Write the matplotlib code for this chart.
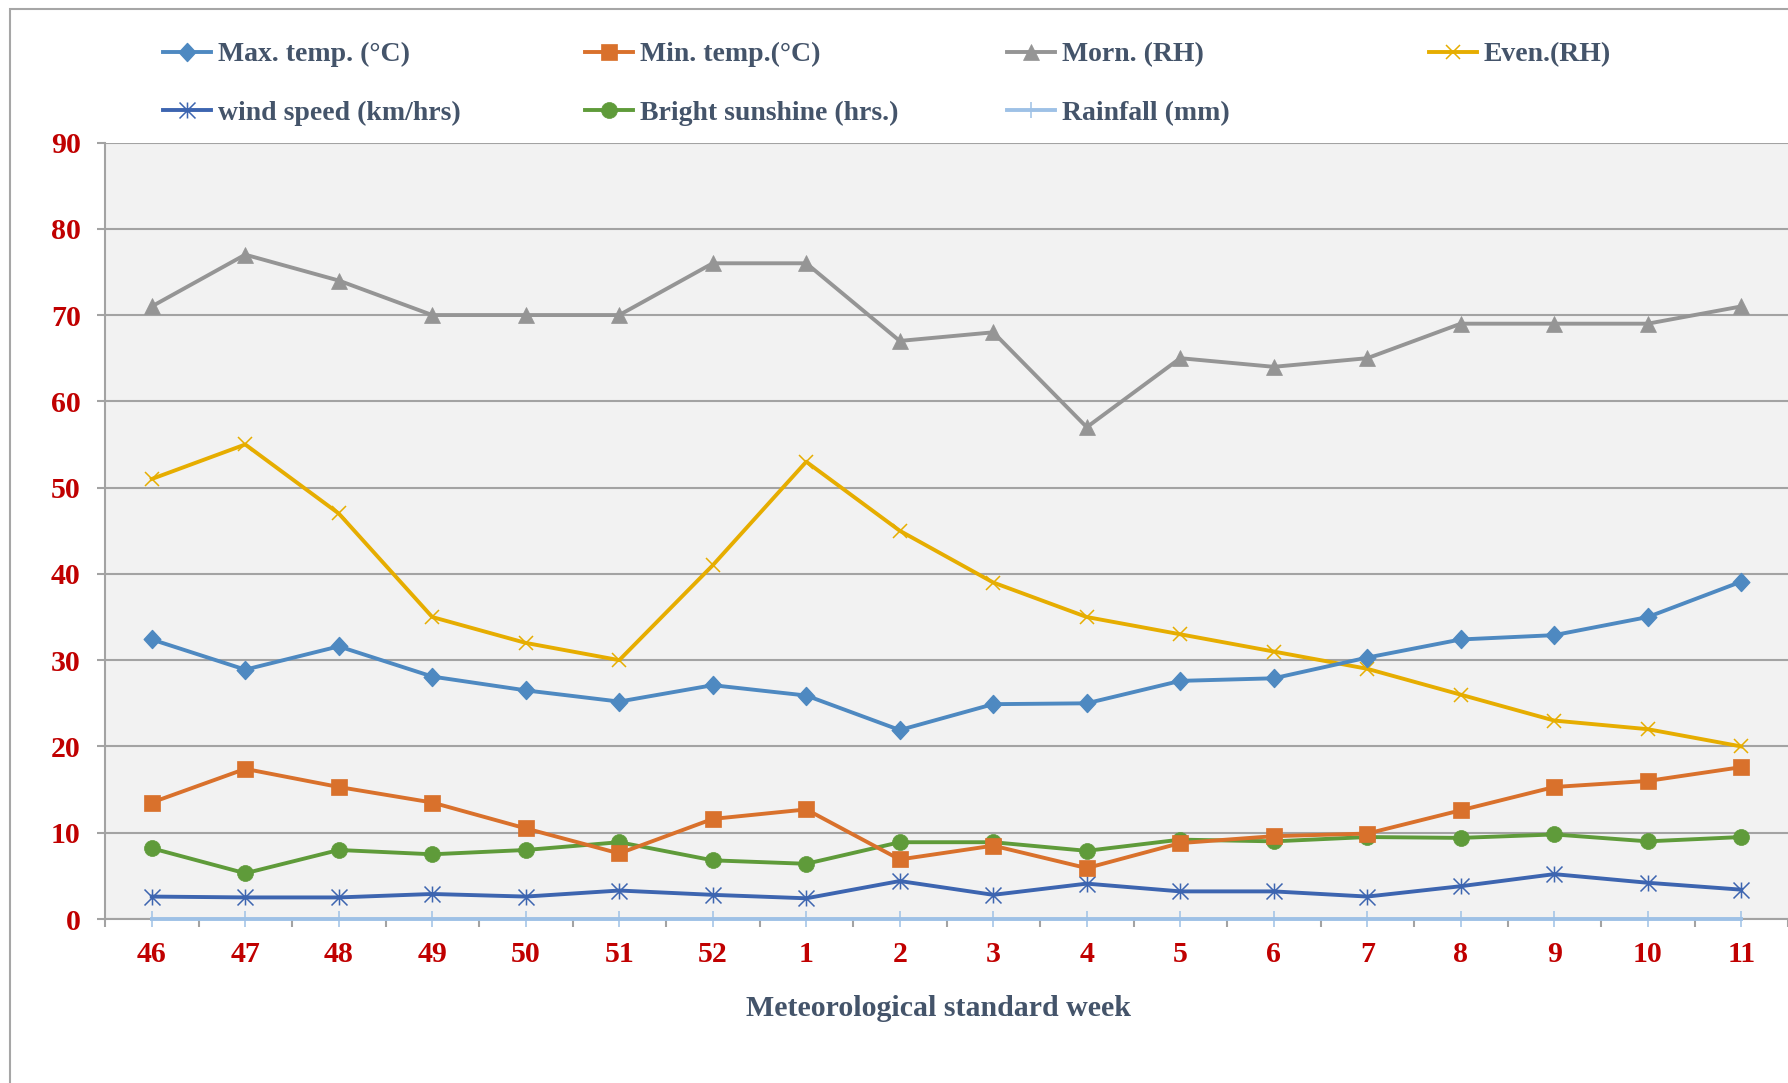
import matplotlib
matplotlib.use("Agg")
import matplotlib.pyplot as plt
from matplotlib.path import Path
from matplotlib.patches import Rectangle
import numpy as np

plt.rcParams['font.family'] = ['Liberation Serif', 'DejaVu Serif']
plt.rcParams['font.weight'] = 'bold'

# Meteorological standard weeks
weeks = ['46', '47', '48', '49', '50', '51', '52', '1', '2', '3', '4',
         '5', '6', '7', '8', '9', '10', '11']

max_temp = [32.4, 28.9, 31.6, 28.1, 26.5, 25.2, 27.1, 25.9, 21.9, 24.9, 25.0,
            27.6, 27.9, 30.3, 32.4, 32.9, 35.0, 39.1]
min_temp = [13.5, 17.4, 15.3, 13.5, 10.5, 7.6, 11.6, 12.7, 6.9, 8.5, 5.9,
            8.8, 9.6, 9.9, 12.6, 15.3, 16.0, 17.6]
morn_rh = [71, 77, 74, 70, 70, 70, 76, 76, 67, 68, 57, 65, 64, 65, 69, 69, 69, 71]
even_rh = [51, 55, 47, 35, 32, 30, 41, 53, 45, 39, 35, 33, 31, 29, 26, 23, 22, 20]
wind_speed = [2.6, 2.5, 2.5, 2.9, 2.6, 3.3, 2.8, 2.4, 4.4, 2.8, 4.1,
              3.2, 3.2, 2.6, 3.8, 5.2, 4.2, 3.4]
sunshine = [8.2, 5.3, 8.0, 7.5, 8.0, 8.9, 6.8, 6.4, 8.9, 8.9, 7.9,
            9.2, 9.0, 9.5, 9.4, 9.8, 9.0, 9.5]
rainfall = [0] * 18

y_ticks = [0, 10, 20, 30, 40, 50, 60, 70, 80, 90]

# Custom markers: star (vertical bar + X) and diamond
star_path = Path([(0, -1), (0, 1), (-1, -1), (1, 1), (-1, 1), (1, -1)],
                 [Path.MOVETO, Path.LINETO, Path.MOVETO, Path.LINETO, Path.MOVETO, Path.LINETO])
diamond_path = Path([(0, 1), (0.92, 0), (0, -1), (-0.92, 0), (0, 1)],
                    [Path.MOVETO, Path.LINETO, Path.LINETO, Path.LINETO, Path.CLOSEPOLY])

W, H = 1788, 1083
fig = plt.figure(figsize=(W / 100, H / 100), dpi=100)
ax = fig.add_axes([105 / W, 1 - 919 / H, (W - 105) / W, (919 - 142.5) / H])
ax.set_facecolor('#F2F2F2')

x = np.arange(len(weeks))
lw = 2.8
series = [
    dict(y=max_temp, label='Max. temp. (°C)', color='#4E89C1', marker=diamond_path, ms=13, mew=1),
    dict(y=min_temp, label='Min. temp.(°C)', color='#D9712C', marker='s', ms=11, mew=0.5),
    dict(y=morn_rh, label='Morn. (RH)', color='#959595', marker='^', ms=12, mew=0.5),
    dict(y=even_rh, label='Even.(RH)', color='#E6AD00', marker='x', ms=10.5, mew=1.1),
    dict(y=wind_speed, label='wind speed (km/hrs)', color='#3D65B0', marker=star_path, ms=11.5, mew=1.1),
    dict(y=sunshine, label='Bright sunshine (hrs.)', color='#5F9B3A', marker='o', ms=11.5, mew=0.5),
    dict(y=rainfall, label='Rainfall (mm)', color='#9EC1E6', marker='|', ms=12, mew=1.1),
]

handles = {}
# Rainfall drawn first so the others stay on top
for s in series[::-1]:
    h, = ax.plot(x, s['y'], color=s['color'], lw=lw, marker=s['marker'],
                 ms=s['ms'], mew=s['mew'], mec=s['color'], mfc=s['color'],
                 label=s['label'], zorder=3, clip_on=False)
    handles[s['label']] = h

ax.set_xlim(-0.5, len(weeks) - 0.5)
ax.set_ylim(0, 90)
ax.set_yticks(y_ticks)
ax.set_yticklabels([str(v) for v in y_ticks])
ax.set_xticks(x)
ax.set_xticklabels(weeks)
ax.set_xticks(np.arange(-0.5, len(weeks), 1.0), minor=True)

ax.yaxis.grid(True, color='#A3A3A3', lw=1.5, zorder=1)
ax.set_axisbelow(True)
for side in ['top', 'right']:
    ax.spines[side].set_visible(False)
ax.spines['left'].set_color('#A3A3A3')
ax.spines['left'].set_linewidth(1.5)
ax.spines['bottom'].set_color('#A3A3A3')
ax.spines['bottom'].set_linewidth(1.5)

ax.tick_params(axis='y', which='major', length=6, width=1.5, color='#A3A3A3',
               labelsize=21.5, labelcolor='#C00000', pad=11.5)
ax.tick_params(axis='x', which='major', length=0, labelsize=21.5,
               labelcolor='#C00000', pad=16)
ax.tick_params(axis='x', which='minor', length=6, width=1.5, color='#A3A3A3')
for lab in ax.get_xticklabels() + ax.get_yticklabels():
    lab.set_fontweight('bold')

ax.set_xlabel('Meteorological standard week', fontsize=21.5, fontweight='bold',
              color='#44546A')
ax.xaxis.set_label_coords(0.495, -0.098)

# Legend laid out as 4 evenly spaced columns
columns = [['Max. temp. (°C)', 'wind speed (km/hrs)'],
           ['Min. temp.(°C)', 'Bright sunshine (hrs.)'],
           ['Morn. (RH)', 'Rainfall (mm)'],
           ['Even.(RH)']]
col_x = [163, 585, 1007, 1429]
for cx, labels in zip(col_x, columns):
    fig.legend([handles[l] for l in labels], labels, loc='upper left',
               bbox_to_anchor=(cx / W, 1 - 42 / H), frameon=False,
               handlelength=1.73, handletextpad=0.25,
               labelspacing=1.2, borderpad=0, borderaxespad=0,
               labelcolor='#44546A', prop={'weight': 'bold', 'size': 20})

# Chart frame
fig.add_artist(Rectangle((10 / W, -0.1), 1.2, 1.1 - 9 / H, transform=fig.transFigure,
                         fill=False, ec='#A6A6A6', lw=1.5))

fig.savefig('out.png', dpi=100)
